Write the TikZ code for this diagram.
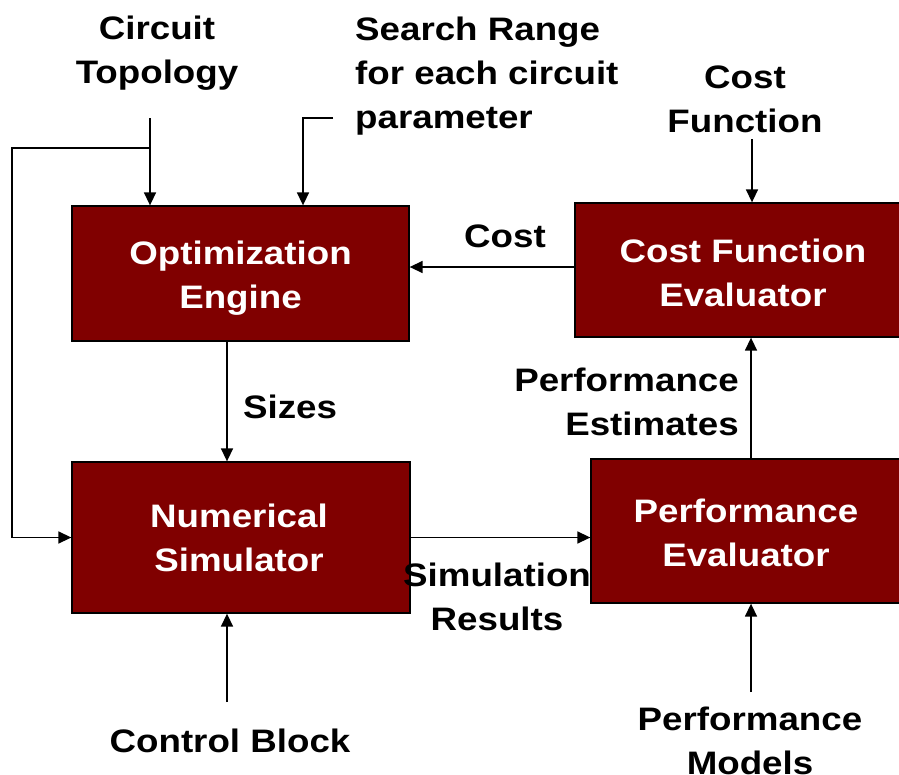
\documentclass[tikz,border=0pt]{standalone}
\usepackage{fontspec}
\setmainfont{Liberation Sans}[FakeStretch=1.13]
\usetikzlibrary{arrows.meta}
\definecolor{boxred}{RGB}{128,0,0}
\begin{document}
\begin{tikzpicture}[x=1pt,y=-1pt,
  txt/.style={font=\fontsize{32.5}{44}\selectfont\bfseries,inner sep=0pt},
  lbl/.style={txt,align=center,text=black},
  box/.style={draw=black,line width=1.3pt,fill=boxred,inner sep=0pt},
  boxtxt/.style={txt,align=center,text=white},
  conn/.style={line width=1.5pt,-{Triangle[length=13pt,width=12pt]}},
]
\useasboundingbox (0,0) rectangle (899,774);
\clip (0,0) rectangle (899,774);

% boxes
\node[box,minimum width=337pt,minimum height=135pt] (opt) at (240.5,273.5) {};
\node[box,minimum width=336pt,minimum height=134pt] (cfe) at (743,270) {};
\node[box,minimum width=338pt,minimum height=151pt] (sim) at (241,537.5) {};
\node[box,minimum width=310pt,minimum height=144pt] (pe) at (746,531) {};
\node[boxtxt] (optt) at (240.5,278) {Optimization\\Engine};
\node[boxtxt] (cfet) at (743,273) {Cost Function\\Evaluator};
\node[boxtxt] (simt) at (239,538) {Numerical\\Simulator};
\node[boxtxt] (pet) at (746,533) {Performance\\Evaluator};

% labels
\node[lbl] (ct) at (157,53) {Circuit\\Topology};
\node[lbl,align=left,anchor=west] (sr) at (355,76) {Search Range\\for each circuit\\parameter};
\node[lbl] (cf) at (745,99) {Cost\\Function};
\node[lbl] (cost) at (505,236) {Cost};
\node[lbl] (sizes) at (290,407) {Sizes};
\node[lbl,align=right,anchor=east] (pest) at (739,402) {Performance\\Estimates};
\node[lbl] (sres) at (497,597) {Simulation\\Results};
\node[lbl] (cb) at (230,741) {Control Block};
\node[lbl] (pm) at (750,741) {Performance\\Models};

% coordinates for free ends
\coordinate (ctA) at (150,118);
\coordinate (ctB) at (150,148);
\coordinate (ctC) at (12,148);
\coordinate (srA) at (333,118);
\coordinate (srB) at (303,118);
\coordinate (cfA) at (752,139);
\coordinate (sx) at (227,0);
\coordinate (px) at (751,0);
\coordinate (costy) at (0,267);
\coordinate (pmA) at (751,692);
\coordinate (cbA) at (227,702);

% connectors
\draw[conn] (ctA) -- (ctA |- opt.north);
\draw[conn] (ctB) -- (ctC) |- (sim.west);
\draw[conn] (srA) -- (srB) -- (srB |- opt.north);
\draw[conn] (cfA) -- (cfA |- cfe.north);
\draw[conn] (cfe.west |- costy) -- (opt.east |- costy);
\draw[conn] (opt.south -| sx) -- (sim.north -| sx);
\draw[conn] (sim.east) -- (sim.east -| pe.west);
\draw[conn] (pe.north -| px) -- (cfe.south -| px);
\draw[conn] (pmA) -- (pmA |- pe.south);
\draw[conn] (cbA) -- (cbA |- sim.south);
\end{tikzpicture}
\end{document}
